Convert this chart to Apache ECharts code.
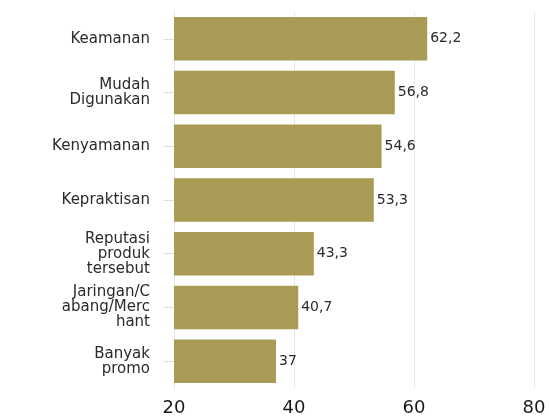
<!DOCTYPE html>
<html>
<head>
<meta charset="utf-8">
<script src="https://cdn.jsdelivr.net/npm/echarts@6/dist/echarts.min.js"></script>
<style>html,body{margin:0;padding:0;background:#fff;}#c{width:549px;height:419px;}</style>
</head>
<body>
<div id="c"></div>
<script>
const categories = ["Keamanan", "Mudah\nDigunakan", "Kenyamanan", "Kepraktisan", "Reputasi\nproduk\ntersebut", "Jaringan/C\nabang/Merc\nhant", "Banyak\npromo"];
const values = [62.2, 56.8, 54.6, 53.3, 43.3, 40.7, 37];
const xTicks = [20, 40, 60, 80];

const chart = echarts.init(document.getElementById('c'));
chart.setOption({
  animation: false,
  grid: { left: 174, right: 15, top: 12, bottom: 31, containLabel: false },
  xAxis: {
    type: 'value', min: xTicks[0], max: xTicks[xTicks.length - 1], interval: 20,
    axisLine: { show: false }, axisTick: { show: false },
    axisLabel: { fontFamily: 'DejaVu Sans', fontSize: 18, color: '#1a1a1a', margin: 11 },
    splitLine: { show: true, lineStyle: { color: '#e4e4e4', width: 1 } }
  },
  yAxis: {
    type: 'category', data: categories, inverse: true,
    axisLine: { show: true, lineStyle: { color: '#e4e4e4' } },
    axisTick: { show: true, alignWithLabel: true, length: 10, lineStyle: { color: '#dddddd' } },
    axisLabel: { fontFamily: 'DejaVu Sans', fontSize: 15, color: '#2a2a2a', lineHeight: 15, margin: 24, align: 'right' }
  },
  series: [{
    type: 'bar', data: values, barCategoryGap: '19%',
    itemStyle: { color: '#a99b56' },
    label: {
      show: true, position: 'right', distance: 3,
      fontFamily: 'DejaVu Sans', fontSize: 14, color: '#2a2a2a',
      formatter: p => String(p.value).replace('.', ',')
    }
  }]
});
</script>
</body>
</html>
